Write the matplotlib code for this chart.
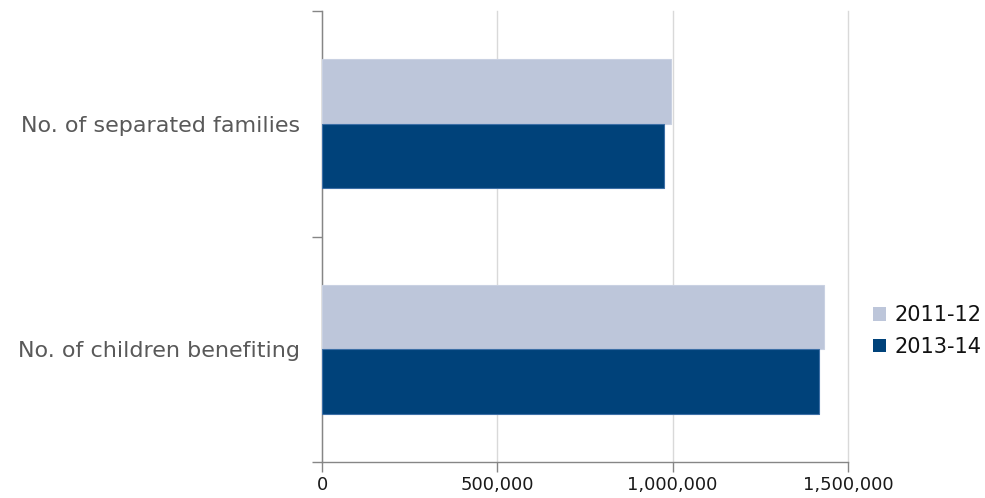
import matplotlib
matplotlib.use("Agg")
import matplotlib.pyplot as plt
import numpy as np
from matplotlib.patches import Patch
from matplotlib.ticker import FuncFormatter, FixedLocator

categories = ["No. of children benefiting", "No. of separated families"]
series_names = ["2011-12", "2013-14"]
values_2011_12 = [1432000, 995000]
values_2013_14 = [1417000, 976000]
x_ticks = [0, 500000, 1000000, 1500000]

light = "#BDC6DA"
dark = "#00427A"

fig = plt.figure(figsize=(9.85, 4.98), dpi=100)
ax = fig.add_axes([322/985, 1-462/498, (848-322)/985, (462-11)/498])

y = np.arange(len(categories))
h = 0.286
ax.barh(y + h/2, values_2011_12, height=h, color=light, edgecolor="#C9D1E2", linewidth=0.8, zorder=3)
ax.barh(y - h/2, values_2013_14, height=h, color=dark, edgecolor="#3D6FA6", linewidth=0.8, zorder=3)

ax.set_xlim(0, 1500000)
ax.set_ylim(-0.5, len(categories) - 0.5)

ax.xaxis.set_major_locator(FixedLocator(x_ticks))
ax.xaxis.set_major_formatter(FuncFormatter(lambda v, p: f"{int(v):,}"))
ax.grid(axis="x", color="#D9D9D9", linewidth=1.0, zorder=0)
for gl in ax.get_xgridlines():
    gl.set_clip_on(False)

ax.set_yticks(np.arange(-0.5, len(categories), 1.0))
ax.set_yticklabels([])
ax.set_yticks(y, minor=True)
ax.set_yticklabels(categories, minor=True, fontfamily="DejaVu Sans", fontsize=16, color="#595959")
ax.tick_params(axis="y", which="minor", length=0, pad=16)
ax.tick_params(axis="y", which="major", length=7, color="#868686", width=1)
ax.tick_params(axis="x", length=7, color="#868686", width=1, pad=3, labelsize=13, labelcolor="#1a1a1a")
for lbl in ax.get_xticklabels():
    lbl.set_fontfamily("DejaVu Sans")

for s in ["top", "right"]:
    ax.spines[s].set_visible(False)
for s in ["left", "bottom"]:
    ax.spines[s].set_color("#868686")
    ax.spines[s].set_linewidth(1)

handles = [Patch(facecolor=light, edgecolor="none"), Patch(facecolor=dark, edgecolor="none")]
fig.legend(handles, series_names, loc="center left", bbox_to_anchor=(867/985, 1-331/498),
           frameon=False, handlelength=0.6, handleheight=0.6, handletextpad=0.4,
           labelspacing=0.55, borderaxespad=0, borderpad=0.3,
           prop={"family": "DejaVu Sans", "size": 15}, labelcolor="#111111")

fig.savefig("out.png", dpi=100)
